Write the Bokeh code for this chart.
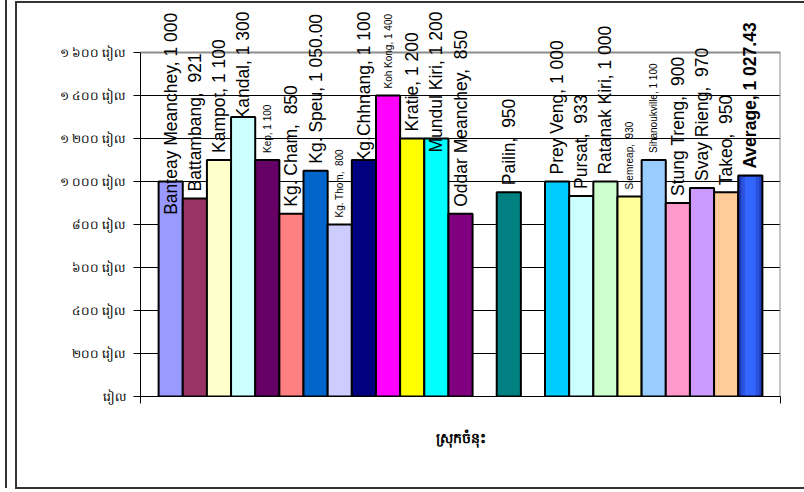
import math
from bokeh.plotting import figure
from bokeh.models import ColumnDataSource, LabelSet, FixedTicker, Range1d, InlineStyleSheet
from bokeh.embed import file_html
from bokeh.resources import INLINE
from bokeh.core.properties import field, value

# ---------------- data ----------------
provinces = ["Banteay Meanchey", "Battambang", "Kampot", "Kandal", "Kep", "Kg. Cham",
             "Kg. Speu", "Kg. Thom", "Kg.Chhnang", "Koh Kong", "Kratie", "Mundul Kiri",
             "Oddar Meanchey", "", "Pailin", "", "Prey Veng", "Pursat", "Ratanak Kiri",
             "Siemreap", "Sihanoukville", "Stung Treng", "Svay Rieng", "Takeo", "Average"]
prices = [1000, 921, 1100, 1300, 1100, 850, 1050, 800, 1100, 1400, 1200, 1200,
          850, None, 950, None, 1000, 933, 1000, 930, 1100, 900, 970, 950, 1027.43]
decimals = [0, 0, 0, 0, 0, 0, 2, 0, 0, 0, 0, 0, 0, 0, 0, 0, 0, 0, 0, 0, 0, 0, 0, 0, 2]
bar_colors = ["#9999FF", "#993366", "#FFFFCC", "#CCFFFF", "#660066", "#FF8080",
              "#0066CC", "#CCCCFF", "#000080", "#FF00FF", "#FFFF00", "#00FFFF",
              "#800080", None, "#008080", None, "#00CCFF", "#CCFFFF", "#CCFFCC",
              "#FFFF99", "#99CCFF", "#FF99CC", "#CC99FF", "#FFCC99", "#1F3BB8"]
ytick_values = [0, 200, 400, 600, 800, 1000, 1200, 1400, 1600]
ytick_labels = ["រៀល", "២០០ រៀល", "៤០០ រៀល", "៦០០ រៀល", "៨០០ រៀល",
                "១ ០០០ រៀល", "១ ២០០ រៀល", "១ ៤០០ រៀល", "១ ៦០០ រៀល"]
x_title = "ស្រុកចំនុះ"

# ---------------- styles / layout ----------------
small_labels = {"Kep", "Kg. Thom", "Koh Kong", "Siemreap", "Sihanoukville"}
bold_labels = {"Average"}
W, H = 788, 476
LEFT, RIGHT = 140, 780              # plot area in canvas px
TOP, BOTTOM = 52, 396               # 1600 level and 0 level in canvas px
FRAME_TOP = 10                      # frame extended upward so labels are not clipped
LABEL_TOP = 11
BIG, SMALL = 17.5, 10.0
LABEL_FONT = "Liberation Sans"

ARIAL = {" ": 278, ",": 278, ".": 278, "\u00a0": 278}
for ch in "0123456789":
    ARIAL[ch] = 556
ARIAL.update(dict(zip("ABCDEFGHIJKLMNOPQRSTUVWXYZ",
                      [667, 667, 722, 722, 667, 611, 778, 722, 278, 500, 667, 556, 833,
                       722, 778, 667, 778, 722, 667, 611, 722, 667, 944, 667, 667, 611])))
ARIAL.update(dict(zip("abcdefghijklmnopqrstuvwxyz",
                      [556, 556, 500, 556, 556, 278, 556, 556, 222, 222, 500, 222, 833,
                       556, 556, 556, 556, 333, 500, 278, 556, 500, 722, 500, 500, 500])))


def text_px(s, size, bold):
    w = sum(ARIAL.get(c, 556) for c in s) / 1000.0 * size
    return w * (1.06 if bold else 1.0)


def fmt(v, d):
    s = f"{v:,.{d}f}".replace(",", " ")
    if v < 1000:
        s = "\u00a0" + s
    return s


YMAX = ytick_values[-1]
ppu = (BOTTOM - TOP) / float(YMAX)          # pixels per data unit
gap_units = 7 / ppu
top_limit = YMAX + (TOP - LABEL_TOP) / ppu
y_end = YMAX + (TOP - FRAME_TOP) / ppu

bx, btop, bcol = [], [], []
lx, ly, ltext, lsize, lstyle = [], [], [], [], []
for i, (name, v, d, c) in enumerate(zip(provinces, prices, decimals, bar_colors)):
    if v is None:
        continue
    bx.append(i + 0.5)
    btop.append(v)
    bcol.append(c)
    t = f"{name}, {fmt(v, d)}"
    size = SMALL if name in small_labels else BIG
    bold = name in bold_labels
    width_units = text_px(t, size, bold) / ppu
    y0 = min(v + gap_units, top_limit - width_units)
    lx.append(i + 0.5)
    ly.append(y0)
    ltext.append(t)
    lsize.append(f"{size}px")
    lstyle.append("bold" if bold else "normal")

bars = ColumnDataSource(dict(x=bx, top=btop, color=bcol))
labels = ColumnDataSource(dict(x=lx, y=ly, text=ltext, size=lsize, fstyle=lstyle))

n = len(provinces)
x0, x1 = -0.75, n + 0.75
p = figure(width=W, height=H, output_backend="svg", toolbar_location=None,
           x_range=Range1d(x0, x1), y_range=Range1d(0, y_end),
           min_border_left=LEFT, min_border_right=W - RIGHT,
           min_border_top=FRAME_TOP, min_border_bottom=H - BOTTOM,
           background_fill_color="white", border_fill_color="white")
p.outline_line_color = None

p.xgrid.grid_line_color = None
p.ygrid.ticker = FixedTicker(ticks=ytick_values[1:-1])
p.ygrid.grid_line_color = "black"
p.ygrid.grid_line_width = 1

# plot-area border (top at 1600 and right side), grey
p.segment(x0=[x0, x1], y0=[YMAX, 0], x1=[x1, x1], y1=[YMAX, YMAX],
          line_color="#8C8C8C", line_width=2)

p.vbar(x="x", top="top", bottom=0, width=1, source=bars, fill_color="color",
       line_color="black", line_width=2)

# gradient look of the Average column
avg_i = provinces.index("Average")
avg_v = prices[avg_i]
p.vbar(x=[avg_i + 0.5], top=[avg_v - 6], bottom=6, width=0.75, fill_color="#2A52DD", line_color=None)
p.vbar(x=[avg_i + 0.5], top=[avg_v - 6], bottom=6, width=0.45, fill_color="#3366FF", line_color=None)

p.add_layout(LabelSet(x="x", y="y", text="text", source=labels, angle=math.pi / 2,
                      text_align="left", text_baseline="middle",
                      text_font=value(LABEL_FONT), text_font_size=field("size"),
                      text_font_style=field("fstyle"), text_color="black"))

# axes
p.yaxis.bounds = (0, YMAX)
p.yaxis.ticker = FixedTicker(ticks=ytick_values)
p.yaxis.major_label_overrides = {v: t for v, t in zip(ytick_values, ytick_labels)}
p.yaxis.major_label_text_font = "Noto Sans"
p.yaxis.major_label_text_font_size = "12px"
p.yaxis.major_label_text_color = "black"
p.yaxis.major_tick_out = 7
p.yaxis.major_tick_in = 0
p.yaxis.minor_tick_line_color = None
p.yaxis.axis_line_color = "black"
p.yaxis.major_tick_line_color = "black"
p.yaxis.major_label_standoff = 8

p.xaxis.ticker = FixedTicker(ticks=[x0 + 1e-6, x1 - 1e-6])
p.xaxis.major_label_text_font_size = "0px"
p.xaxis.major_label_text_color = None
p.xaxis.major_label_standoff = 0
p.xaxis.major_tick_out = 7
p.xaxis.major_tick_in = 0
p.xaxis.minor_tick_line_color = None
p.xaxis.axis_line_color = "black"
p.xaxis.major_tick_line_color = "black"
p.xaxis.axis_label = x_title
p.xaxis.axis_label_text_font = "Noto Sans"
p.xaxis.axis_label_text_font_style = "bold"
p.xaxis.axis_label_text_font_size = "14px"
p.xaxis.axis_label_text_color = "black"
p.xaxis.axis_label_standoff = 24

# chart frames (partly outside the canvas area, drawn with CSS)
frame_css = """
:host { position: relative; overflow: visible; }
:host::after { content: ""; position: absolute; left: 15px; top: 1px; width: 820px; height: 488px;
  box-sizing: border-box; border-left: 2px solid #333; border-top: 2px solid #333;
  border-bottom: 2px solid #333; pointer-events: none; z-index: 100; }
:host::before { content: ""; position: absolute; left: 5px; top: 0px; width: 2px; height: 488px;
  background: #333; pointer-events: none; z-index: 100; }
"""
p.stylesheets = [InlineStyleSheet(css=frame_css)]

open("out.html", "w").write(file_html(p, INLINE))
